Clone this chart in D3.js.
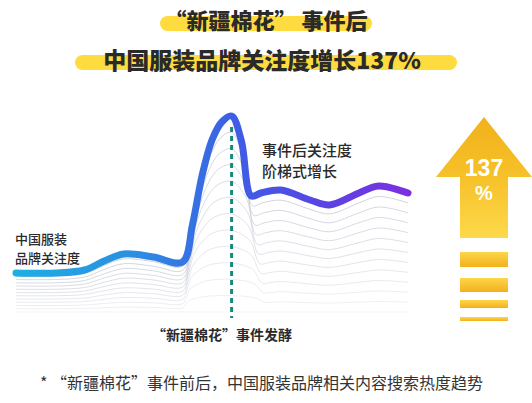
<!DOCTYPE html>
<html>
<head>
<meta charset="utf-8">
<script src="https://cdn.jsdelivr.net/npm/d3@7"></script>
<style>
  html, body { margin: 0; padding: 0; background: #fff; }
  svg { display: block; }
  text { font-family: "Noto Sans CJK SC", "Noto Sans", sans-serif; }
</style>
</head>
<body>
<svg id="chart" width="532" height="403"></svg>
<script>
// Search-heat trend of Chinese apparel brands around the "Xinjiang cotton" event
const days = [0, 4, 7, 9, 11, 14, 17, 18, 19, 20, 21, 22, 23, 24, 25, 27, 30, 32, 35, 37, 40];
const heat = [19.5, 19.5, 21, 25.5, 29, 27.5, 25, 43.5, 68.5, 86, 95, 98, 85.5, 58, 59.5, 61, 56, 53.5, 59.5, 63, 59.5];
const eventDay = 22;
const echoCount = 12;

const titleLines = ["“新疆棉花” 事件后", "中国服装品牌关注度增长137%"];
const leftLabel = ["中国服装", "品牌关注度"];
const rightLabel = ["事件后关注度", "阶梯式增长"];
const eventLabel = "“新疆棉花”事件发酵";
const footnote = "* “新疆棉花”事件前后，中国服装品牌相关内容搜索热度趋势";
const growthText = ["137", "%"];
const growthBars = [0, 1, 2, 3];

const svg = d3.select("#chart");
const defs = svg.append("defs");

// ---- title with yellow highlight bars
const hl = [{x: 160, y: 16, w: 212}, {x: 75, y: 55, w: 382}];
svg.selectAll("rect.hl").data(hl).join("rect")
  .attr("class", "hl")
  .attr("x", d => d.x).attr("y", d => d.y)
  .attr("width", d => d.w).attr("height", 15)
  .attr("rx", 7.5).attr("fill", "#fedb3f");

svg.selectAll("text.title").data(titleLines).join("text")
  .attr("class", "title")
  .attr("x", (d, i) => i === 0 ? 266 : 262)
  .attr("y", (d, i) => i === 0 ? 29 : 69)
  .attr("text-anchor", "middle")
  .attr("font-size", (d, i) => i === 0 ? 22 : 23)
  .attr("font-weight", 900)
  .attr("fill", "#2a2a2a")
  .text(d => d);

// ---- scales
const x = d3.scaleLinear().domain([0, 40]).range([16, 408]);
const y = d3.scaleLinear().domain([0, 100]).range([312, 112]);

const line = d3.line()
  .x(d => x(d[0]))
  .y(d => y(d[1]))
  .curve(d3.curveCatmullRom.alpha(0.5));

// ---- echo lines: scaled-down copies sinking to the baseline, widening near the event
const echoes = d3.range(1, echoCount + 1).map(k => {
  const t = k / echoCount;
  const s = t * 1.5;
  return days.map((dd, i) => {
    let nx = dd;
    if (dd === 18) nx = dd - s * 0.5;
    else if (dd > 18 && dd < eventDay) nx = dd - s;
    else if (dd > eventDay && dd <= 25) nx = dd + s;
    return [nx, heat[i] * (1 - t)];
  });
});

svg.append("g").selectAll("path").data(echoes).join("path")
  .attr("d", line)
  .attr("fill", "none")
  .attr("stroke", "#c9cdd8")
  .attr("stroke-width", 1)
  .attr("stroke-opacity", (d, i) => 0.85 - i * 0.055);

// ---- event marker
svg.append("line")
  .attr("x1", x(eventDay)).attr("x2", x(eventDay))
  .attr("y1", 127).attr("y2", 318)
  .attr("stroke", "#178a7c")
  .attr("stroke-width", 3)
  .attr("stroke-dasharray", "5,4");

// ---- main trend line
const grad = defs.append("linearGradient")
  .attr("id", "trendGrad")
  .attr("gradientUnits", "userSpaceOnUse")
  .attr("x1", x(0)).attr("x2", x(40)).attr("y1", 0).attr("y2", 0);
[[0, "#1eaee2"], [0.3, "#2b8fe2"], [0.55, "#3d5fe4"], [0.75, "#5548e4"], [1, "#7b2fe1"]]
  .forEach(([o, c]) => grad.append("stop").attr("offset", o).attr("stop-color", c));

svg.append("path")
  .datum(days.map((dd, i) => [dd, heat[i]]))
  .attr("d", line)
  .attr("fill", "none")
  .attr("stroke", "url(#trendGrad)")
  .attr("stroke-width", 7)
  .attr("stroke-linecap", "round")
  .attr("stroke-linejoin", "round");

// ---- annotations
svg.selectAll("text.left").data(leftLabel).join("text")
  .attr("class", "left")
  .attr("x", 15).attr("y", (d, i) => 244 + i * 19)
  .attr("font-size", 13).attr("font-weight", 500).attr("fill", "#2a2a2a")
  .text(d => d);

svg.selectAll("text.right").data(rightLabel).join("text")
  .attr("class", "right")
  .attr("x", 262).attr("y", (d, i) => 156 + i * 21)
  .attr("font-size", 15).attr("font-weight", 500).attr("fill", "#2a2a2a")
  .text(d => d);

svg.append("text")
  .attr("x", 152).attr("y", 340)
  .attr("font-size", 14).attr("font-weight", 700).attr("fill", "#2a2a2a")
  .text(eventLabel);

svg.append("text")
  .attr("x", 40).attr("y", 389)
  .attr("font-size", 16).attr("font-weight", 400).attr("fill", "#333")
  .text(footnote);

// ---- growth arrow
const arrowGrad = defs.append("linearGradient")
  .attr("id", "arrowGrad").attr("x1", 0).attr("x2", 0).attr("y1", 0).attr("y2", 1);
arrowGrad.append("stop").attr("offset", 0).attr("stop-color", "#f2b11a");
arrowGrad.append("stop").attr("offset", 0.5).attr("stop-color", "#f6c12a");
arrowGrad.append("stop").attr("offset", 1).attr("stop-color", "#fdd94a");

const barGrad = defs.append("linearGradient")
  .attr("id", "barGrad").attr("x1", 0).attr("x2", 0).attr("y1", 0).attr("y2", 1);
barGrad.append("stop").attr("offset", 0).attr("stop-color", "#fdd64a");
barGrad.append("stop").attr("offset", 1).attr("stop-color", "#f2b11c");

const ax = 484, tipY = 117, headY = 177, shaftBottom = 238, headHalf = 48, shaftHalf = 24;
svg.append("path")
  .attr("d", d3.line()([
    [ax, tipY], [ax + headHalf, headY], [ax + shaftHalf, headY], [ax + shaftHalf, shaftBottom],
    [ax - shaftHalf, shaftBottom], [ax - shaftHalf, headY], [ax - headHalf, headY]
  ]) + "Z")
  .attr("fill", "url(#arrowGrad)");

const barY = [252, 278, 300, 317];
const barH = [15, 14, 8, 4];
svg.selectAll("rect.gbar").data(growthBars).join("rect")
  .attr("class", "gbar")
  .attr("x", ax - shaftHalf).attr("width", shaftHalf * 2)
  .attr("y", d => barY[d]).attr("height", d => barH[d])
  .attr("fill", "url(#barGrad)");

svg.selectAll("text.growth").data(growthText).join("text")
  .attr("class", "growth")
  .attr("x", ax).attr("y", (d, i) => i === 0 ? 176 : 200)
  .attr("text-anchor", "middle")
  .style("font-family", "'Liberation Sans', Arial, sans-serif")
  .attr("font-size", (d, i) => i === 0 ? 23 : 20)
  .attr("font-weight", 700)
  .attr("fill", "#fff")
  .text(d => d);
</script>
</body>
</html>
